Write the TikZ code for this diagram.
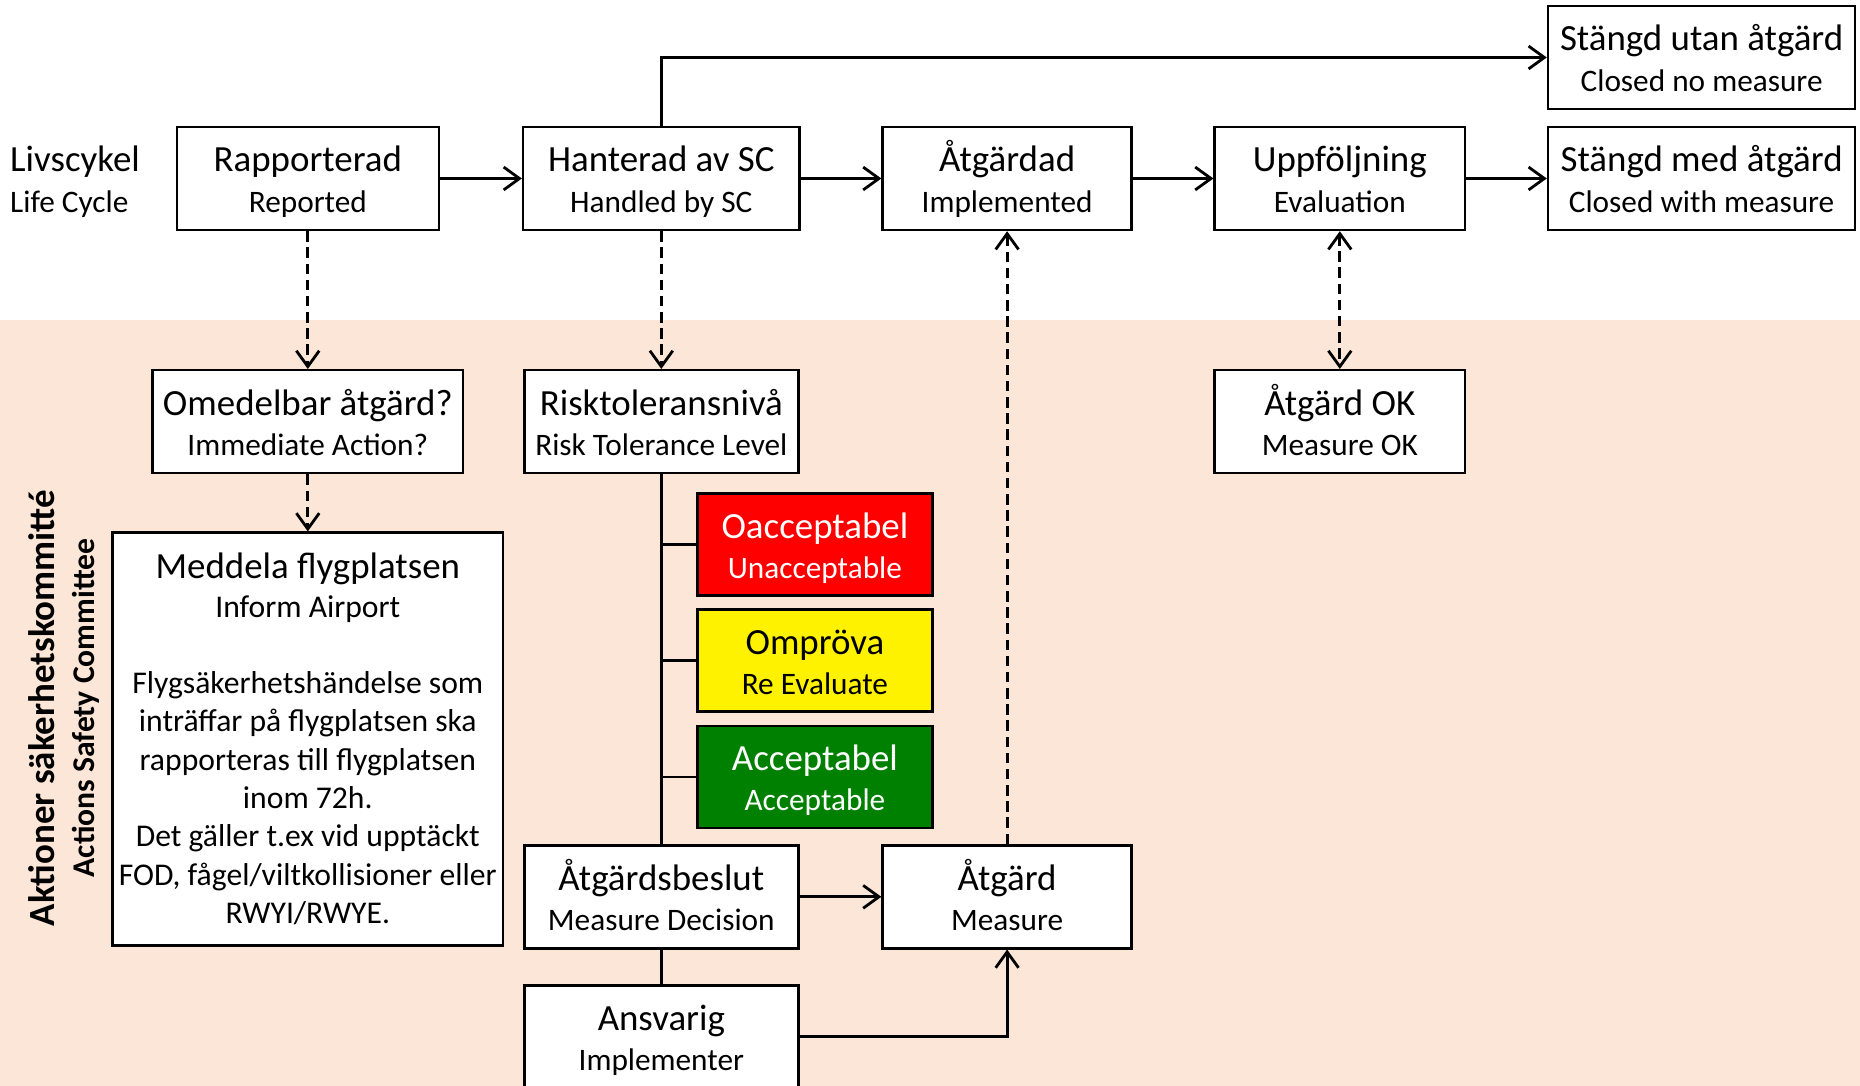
\documentclass[tikz,border=0pt]{standalone}
\usepackage{fontspec}
\setmainfont{Carlito}
\usetikzlibrary{arrows.meta}
\definecolor{peach}{HTML}{FCE6D8}
\definecolor{okgreen}{HTML}{008000}
\newcommand{\bigtxt}{\fontsize{10.5}{11.8}\selectfont}
\newcommand{\smalltxt}{\fontsize{8.9}{10.9}\selectfont}
% two-line label: Swedish over English
\newcommand{\lbl}[2]{{\bigtxt #1\rule[-2.6pt]{0pt}{12.5pt}}\\[0.5pt]#2\rule[-2.2pt]{0pt}{8pt}}

\begin{document}
\begin{tikzpicture}[
    box/.style={rectangle, draw, fill=white, line width=0.7pt, minimum height=1.03cm, align=center, inner sep=1pt, font=\smalltxt},
    arrow/.style={-{Straight Barb[length=4.5pt,width=6.5pt]}, line width=0.8pt},
    dasharrow/.style={arrow, dash pattern=on 3pt off 1.6pt},
    dashboth/.style={dasharrow, {Straight Barb[length=4.5pt,width=6.5pt]}-{Straight Barb[length=4.5pt,width=6.5pt]}},
    link/.style={line width=0.8pt}
]
    \useasboundingbox (0,0) rectangle (18.6,-10.86);
    \fill[peach] (0,-3.203) rectangle (18.6,-10.86);

    % life cycle row
    \node[anchor=west, align=left, inner sep=0, font=\smalltxt] (livscykel) at (0.095,-1.785) {\lbl{Livscykel}{Life Cycle}};
    \node[box, minimum width=2.62cm] (rapporterad) at (3.078,-1.785) {\lbl{Rapporterad}{Reported}};
    \node[box, minimum width=2.764cm, right of=rapporterad, node distance=3.535cm] (hanterad) {\lbl{Hanterad av SC}{Handled by SC}};
    \node[box, minimum width=2.49cm, right of=hanterad, node distance=3.458cm] (atgardad) {\lbl{Åtgärdad}{Implemented}};
    \node[box, minimum width=2.503cm, right of=atgardad, node distance=3.327cm] (uppfoljning) {\lbl{Uppföljning}{Evaluation}};
    \node[box, minimum width=3.072cm, right of=uppfoljning, node distance=3.618cm] (stangdmed) {\lbl{Stängd med åtgärd}{Closed with measure}};
    \node[box, minimum width=3.072cm, above of=stangdmed, node distance=1.21cm] (stangdutan) {\lbl{Stängd utan åtgärd}{Closed no measure}};

    % committee actions
    \node[rotate=90, font={\fontsize{10.5}{12}\selectfont\bfseries}] (aktioner) at (0.415,-7.08) {Aktioner säkerhetskommitté};
    \node[rotate=90, font={\fontsize{9}{10}\selectfont\bfseries}] (actions) at (0.854,-7.08) {Actions Safety Committee};

    \node[box, minimum width=3.108cm, below of=rapporterad, node distance=2.432cm] (omedelbar) {\lbl{Omedelbar åtgärd?}{Immediate Action?}};
    \node[box, minimum width=2.74cm, below of=hanterad, node distance=2.432cm] (risk) {\lbl{Risktoleransnivå}{Risk Tolerance Level}};
    \node[box, minimum width=2.503cm, below of=uppfoljning, node distance=2.432cm] (atgardok) {\lbl{Åtgärd OK}{Measure OK}};
    \node[box, minimum width=3.903cm, minimum height=4.128cm, font=\fontsize{9}{10.9}\selectfont, below of=omedelbar, node distance=3.173cm] (meddela) {{\bigtxt Meddela flygplatsen}\\Inform Airport\\[10.9pt]Flygsäkerhetshändelse som\\inträffar på flygplatsen ska\\rapporteras till flygplatsen\\inom 72h.\\Det gäller t.ex vid upptäckt\\FOD, fågel/viltkollisioner eller\\RWYI/RWYE.};

    \node[box, minimum width=2.349cm, minimum height=1.02cm, fill=red, text=white] (oacceptabel) at (8.149,-5.445) {\lbl{Oacceptabel}{Unacceptable}};
    \node[box, minimum width=2.349cm, minimum height=1.02cm, fill=yellow, below of=oacceptabel, node distance=1.162cm] (omprova) {\lbl{Ompröva}{Re Evaluate}};
    \node[box, minimum width=2.349cm, minimum height=1.02cm, fill=okgreen, text=white, below of=omprova, node distance=1.163cm] (acceptabel) {\lbl{Acceptabel}{Acceptable}};

    \node[box, minimum width=2.74cm, below of=risk, node distance=4.751cm] (beslut) {\lbl{Åtgärdsbeslut}{Measure Decision}};
    \node[box, minimum width=2.49cm, right of=beslut, node distance=3.458cm] (atgard) {\lbl{Åtgärd}{Measure}};
    \node[box, minimum width=2.74cm, below of=beslut, node distance=1.40cm] (ansvarig) {\lbl{Ansvarig}{Implementer}};

    % connectors
    \draw[arrow] (rapporterad) -- (hanterad);
    \draw[arrow] (hanterad) -- (atgardad);
    \draw[arrow] (atgardad) -- (uppfoljning);
    \draw[arrow] (uppfoljning) -- (stangdmed);
    \draw[arrow] (hanterad.north) |- (stangdutan.west);

    \draw[dasharrow] (rapporterad) -- (omedelbar);
    \draw[dasharrow] (hanterad) -- (risk);
    \draw[dasharrow] (omedelbar) -- (meddela);
    \draw[dasharrow] (atgard) -- (atgardad);
    \draw[dashboth] (uppfoljning) -- (atgardok);

    \draw[link] (risk) -- (beslut);
    \draw[link] (risk.south |- oacceptabel.west) -- (oacceptabel.west);
    \draw[link] (risk.south |- omprova.west) -- (omprova.west);
    \draw[link] (risk.south |- acceptabel.west) -- (acceptabel.west);
    \draw[link] (beslut) -- (ansvarig);
    \draw[arrow] (beslut) -- (atgard);
    \draw[arrow] (ansvarig.east) -| (atgard.south);
\end{tikzpicture}
\end{document}
